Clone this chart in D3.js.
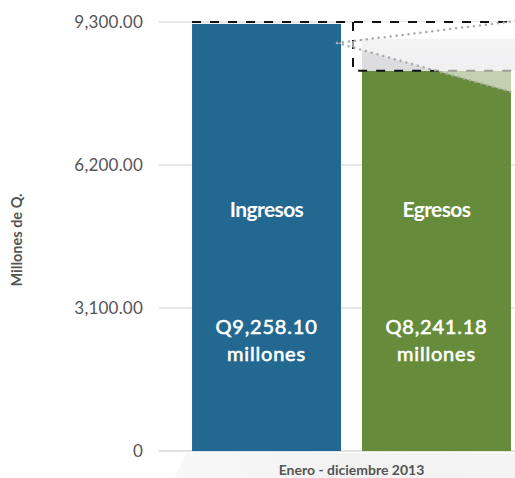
<!DOCTYPE html>
<html>
<head>
<meta charset="utf-8">
<script src="https://cdn.jsdelivr.net/npm/d3@7"></script>
<style>
  body { margin: 0; background: #fff; }
  svg { display: block; font-family: Lato, "Open Sans", sans-serif; }
</style>
</head>
<body>
<div id="chart"></div>
<script>
var categories = ["Ingresos", "Egresos"];
var values = [9258.10, 8241.18];
var valueLabels = ["Q9,258.10", "Q8,241.18"];
var tickValues = [0, 3100, 6200, 9300];
var tickLabels = ["0", "3,100.00", "6,200.00", "9,300.00"];
var colors = ["#236891", "#668c3b"];
var periodLabel = "Enero - diciembre 2013";
var yTitle = "Millones de Q.";

var width = 515, height = 478;

var svg = d3.select("#chart").append("svg")
    .attr("width", width)
    .attr("height", height);

var x = d3.scaleBand()
    .domain(categories)
    .range([181.5, 521.5])
    .paddingInner(0.1235)
    .paddingOuter(0.062);

var y = d3.scaleLinear()
    .domain([0, 9300])
    .range([451, 22]);

var defs = svg.append("defs");
var floorGrad = defs.append("linearGradient").attr("id", "floor")
    .attr("x1", "0").attr("x2", "1").attr("y1", "0").attr("y2", "0");
floorGrad.append("stop").attr("offset", "0").attr("stop-color", "#f8f8f8");
floorGrad.append("stop").attr("offset", "0.5").attr("stop-color", "#f2f2f2");
floorGrad.append("stop").attr("offset", "1").attr("stop-color", "#f4f4f4");

// floor under the axis
var x0 = x(categories[0]);
svg.append("path")
    .attr("d", "M" + (x0 - 6) + "," + (y(0) + 2) + "L" + width + "," + (y(0) + 2) +
        "L" + width + "," + height + "L" + (x0 - 18) + "," + height + "Z")
    .style("fill", "url(#floor)");

// gridlines
svg.append("g").selectAll("line")
    .data(tickValues)
    .enter().append("line")
    .attr("x1", 159)
    .attr("x2", width)
    .attr("y1", function (d) { return y(d); })
    .attr("y2", function (d) { return y(d); })
    .style("stroke", function (d) { return d === 0 ? "#e2e2e2" : "#e8e8e8"; })
    .style("stroke-width", 2);

// tick labels
svg.append("g").selectAll("text")
    .data(tickValues)
    .enter().append("text")
    .attr("x", 143)
    .attr("y", function (d) { return y(d); })
    .attr("dy", "0.36em")
    .style("text-anchor", "end")
    .style("font-size", "17px")
    .style("letter-spacing", "0.2px")
    .style("fill", "#555")
    .text(function (d, i) { return tickLabels[i]; });

// y title
svg.append("text")
    .attr("transform", "translate(22,240) rotate(-90)")
    .style("text-anchor", "middle")
    .style("font-size", "14.5px")
    .style("font-weight", "bold")
    .style("fill", "#555")
    .text(yTitle);

// bars
svg.append("g").selectAll("rect")
    .data(values)
    .enter().append("rect")
    .attr("x", function (d, i) { return x(categories[i]); })
    .attr("width", x.bandwidth())
    .attr("y", function (d) { return y(d); })
    .attr("height", function (d) { return y(0) - y(d); })
    .style("fill", function (d, i) { return colors[i]; });

// zoom box above the second bar
var x1 = x(categories[1]);
var boxLeft = x1 - 9;
var boxTop = y(9300);
var boxBottom = y(values[1]);
var apexX = x0 + x.bandwidth() - 4;
var apexY = boxTop + 21;

var bandGrad = defs.append("linearGradient").attr("id", "band")
    .attr("x1", "0").attr("x2", "0").attr("y1", "0").attr("y2", "1");
bandGrad.append("stop").attr("offset", "0").attr("stop-color", "#ffffff");
bandGrad.append("stop").attr("offset", "0.33").attr("stop-color", "#ffffff");
bandGrad.append("stop").attr("offset", "0.36").attr("stop-color", "#e0e0e3");
bandGrad.append("stop").attr("offset", "1").attr("stop-color", "#dcdcdf");

svg.append("rect")
    .attr("x", x1)
    .attr("y", boxTop)
    .attr("width", width - x1)
    .attr("height", boxBottom - boxTop)
    .style("fill", "url(#band)");

svg.append("path")
    .attr("d", "M" + boxLeft + "," + boxTop + "V" + boxBottom + "H" + (width + 10))
    .style("fill", "none")
    .style("stroke", "#111")
    .style("stroke-width", 2)
    .style("stroke-dasharray", "9,9");

svg.append("line")
    .attr("x1", x0).attr("x2", width + 10)
    .attr("y1", boxTop).attr("y2", boxTop)
    .style("stroke", "#111")
    .style("stroke-width", 2)
    .style("stroke-dasharray", "9,9");

// magnifier cone
var upSlope = -0.123, downSlope = 0.281;
var farX = width + 20;
svg.append("path")
    .attr("d", "M" + apexX + "," + apexY + "L" + farX + "," + (apexY + upSlope * (farX - apexX)) +
        "L" + farX + "," + (apexY + downSlope * (farX - apexX)) + "Z")
    .style("fill", "#ffffff")
    .style("fill-opacity", 0.6);

[upSlope, downSlope].forEach(function (s) {
    svg.append("line")
        .attr("x1", apexX).attr("y1", apexY)
        .attr("x2", farX).attr("y2", apexY + s * (farX - apexX))
        .style("stroke", "#a8a8a8")
        .style("stroke-width", 2.5)
        .style("stroke-linecap", "round")
        .style("stroke-dasharray", "0,6");
});

// bar labels
var labels = svg.append("g").selectAll("g")
    .data(categories)
    .enter().append("g")
    .attr("transform", function (d) { return "translate(" + (x(d) + x.bandwidth() / 2) + ",0)"; })
    .style("text-anchor", "middle")
    .style("fill", "#fff");

labels.append("text")
    .attr("y", 217)
    .style("font-size", "21px")
    .style("font-weight", "bold")
    .style("letter-spacing", "-0.6px")
    .text(function (d) { return d; });

labels.append("text")
    .attr("y", 334)
    .style("font-size", "20px")
    .style("stroke", "#fff")
    .style("stroke-width", 0.6)
    .style("letter-spacing", "0.8px")
    .text(function (d, i) { return valueLabels[i]; });

labels.append("text")
    .attr("y", 361)
    .style("font-size", "20px")
    .style("stroke", "#fff")
    .style("stroke-width", 0.6)
    .style("letter-spacing", "0.8px")
    .text("millones");

// period label
svg.append("text")
    .attr("x", (x0 + x1 + x.bandwidth()) / 2)
    .attr("y", 475)
    .style("text-anchor", "middle")
    .style("font-size", "14px")
    .style("font-weight", "bold")
    .style("fill", "#555")
    .text(periodLabel);
</script>
</body>
</html>
